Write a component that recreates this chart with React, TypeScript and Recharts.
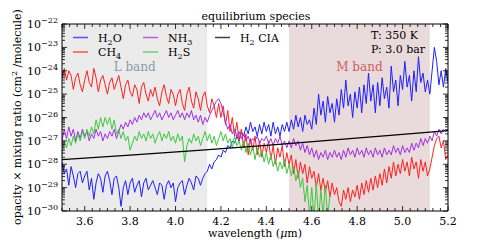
import React from 'react';
import { LineChart, Line, XAxis, YAxis, ReferenceArea } from 'recharts';

// wavelength grid of the opacity samples (micron)
const WL_START = 3.5;
const WL_STEP = 0.01;

// log10(opacity x mixing ratio), one value per grid point
const H2O = [
  -27.9, -28.4, -28.2, -28.9, -28.1, -28.5, -29.0, -28.4, -28.3, -28.8,
  -28.5, -28.3, -29.1, -28.6, -29.5, -28.8, -28.4, -28.6, -29.2, -28.5,
  -28.3, -28.7, -29.3, -28.6, -28.5, -29.0, -29.8, -29.0, -28.7, -29.3,
  -28.8, -28.6, -29.2, -28.9, -28.7, -29.4, -28.8, -28.6, -29.1, -28.9,
  -28.7, -29.0, -29.3, -28.8, -28.9, -29.5, -28.9, -28.7, -29.0, -28.8,
  -29.6, -29.0, -28.8, -28.7, -29.3, -28.9, -28.6, -28.8, -29.1, -28.5,
  -28.6, -28.9, -28.6, -28.4, -28.3, -28.0, -28.2, -27.9, -27.8, -27.6,
  -27.7, -27.4, -27.5, -27.2, -27.3, -27.0, -27.1, -26.8, -27.0, -26.6,
  -26.8, -26.4, -26.7, -26.2, -26.6, -26.4, -26.8, -26.3, -26.7, -26.2,
  -26.6, -26.3, -26.8, -26.2, -26.7, -26.4, -26.8, -26.3, -26.6, -26.2,
  -26.6, -26.1, -26.5, -25.9, -26.4, -26.0, -26.6, -25.9, -26.3, -26.1,
  -26.5, -25.6, -26.3, -25.0, -25.9, -25.3, -26.2, -25.1, -25.8, -25.4,
  -26.2, -25.2, -25.9, -24.8, -25.6, -24.4, -25.5, -25.0, -26.0, -24.9,
  -25.6, -24.7, -25.8, -24.6, -25.4, -24.1, -25.3, -24.6, -25.8, -24.5,
  -25.5, -24.3, -25.2, -24.7, -25.6, -23.8, -24.9, -24.4, -25.5, -24.2,
  -24.8, -23.6, -24.7, -24.2, -25.3, -24.0, -24.9, -23.4, -24.5, -24.1,
  -24.9, -24.4, -25.0, -24.0, -23.0, -23.6, -24.6, -24.0, -24.7, -23.9,
  -24.5,
];

const CH4 = [
  -24.3, -23.9, -24.4, -24.0, -24.2, -24.8, -24.3, -24.1, -24.6, -24.9,
  -24.4, -24.0, -24.5, -24.7, -23.9, -24.3, -24.9, -24.4, -24.2, -24.6,
  -25.0, -24.5, -24.3, -24.8, -24.5, -24.2, -24.7, -25.2, -24.6, -24.4,
  -24.9, -25.1, -24.6, -24.8, -25.4, -24.7, -24.5, -25.0, -25.3, -24.8,
  -25.1, -24.7, -25.2, -25.5, -24.9, -24.6, -25.1, -25.4, -24.8, -25.0,
  -25.5, -25.0, -24.8, -25.4, -25.7, -25.0, -24.7, -25.3, -25.6, -24.9,
  -25.2, -25.7, -25.1, -24.9, -25.5, -25.8, -25.2, -25.5, -26.0, -25.4,
  -26.0, -25.5, -26.3, -25.7, -26.6, -26.0, -26.8, -26.2, -27.0, -26.5,
  -27.3, -26.7, -27.6, -26.9, -27.4, -26.8, -27.6, -27.0, -27.7, -27.1,
  -27.5, -27.0, -27.8, -27.2, -28.0, -27.3, -27.7, -27.2, -28.1, -27.5,
  -28.0, -27.6, -28.4, -27.8, -28.6, -27.9, -28.4, -28.0, -28.8, -28.1,
  -28.6, -28.3, -29.0, -28.4, -29.1, -28.6, -29.2, -28.7, -29.4, -28.8,
  -29.3, -29.0, -29.6, -29.8, -29.1, -29.5, -29.0, -29.6, -29.1, -29.4,
  -28.9, -29.5, -28.8, -29.3, -28.7, -29.2, -28.6, -29.1, -28.5, -29.0,
  -28.4, -28.9, -28.2, -28.8, -28.1, -28.6, -27.9, -28.5, -28.0, -28.4,
  -27.8, -28.3, -27.9, -28.5, -27.7, -28.2, -27.9, -28.6, -27.8, -28.3,
  -27.9, -28.5, -28.2, -27.7, -27.2, -26.9, -26.8, -27.3, -27.0, -27.8,
  -27.6,
];

const NH3 = [
  -27.0, -26.5, -26.9, -26.4, -26.8, -26.5, -27.0, -26.6, -26.9, -26.5,
  -26.8, -26.6, -27.0, -26.7, -26.9, -26.5, -26.8, -26.6, -27.0, -26.7,
  -26.9, -26.6, -26.8, -26.5, -26.9, -26.6, -26.3, -26.5, -26.2, -26.4,
  -26.1, -26.3, -26.0, -26.2, -25.9, -26.1, -25.8, -26.0, -25.8, -26.1,
  -25.9, -25.7, -26.0, -25.8, -26.1, -25.9, -25.7, -26.0, -25.8, -26.1,
  -25.9, -25.7, -26.0, -25.8, -26.1, -25.8, -26.0, -25.7, -26.1, -25.9,
  -26.2, -25.9, -26.3, -26.0, -26.2, -25.9, -25.7, -25.5, -25.3, -25.2,
  -25.4, -25.8, -26.2, -26.5, -26.3, -26.7, -26.5, -26.8, -26.6, -26.9,
  -26.7, -27.0, -26.8, -27.1, -26.9, -27.0, -26.8, -27.1, -26.9, -27.0,
  -26.8, -27.1, -26.9, -27.2, -26.9, -27.1, -26.8, -27.2, -27.0, -27.3,
  -27.0, -27.3, -26.9, -27.2, -27.0, -27.4, -27.1, -27.5, -27.2, -27.6,
  -27.3, -27.7, -27.4, -27.8, -27.5, -27.7, -27.4, -27.8, -27.5, -27.7,
  -27.4, -27.7, -27.5, -27.8, -27.4, -27.7, -27.3, -27.6, -27.4, -27.7,
  -27.3, -27.6, -27.4, -27.7, -27.3, -27.6, -27.4, -27.7, -27.3, -27.6,
  -27.4, -27.7, -27.3, -27.6, -27.4, -27.6, -27.2, -27.5, -27.3, -27.6,
  -27.2, -27.5, -27.3, -27.5, -27.1, -27.4, -27.1, -27.3, -26.9, -27.2,
  -26.9, -27.1, -26.8, -27.0, -26.6, -26.8, -26.5, -26.7, -26.5, -26.6,
  -26.5,
];

// H2S stops at 4.68 micron
const H2S = [
  -27.6, -27.0, -27.3, -26.9, -27.2, -26.8, -27.1, -26.7, -27.0, -26.6,
  -26.9, -26.5, -26.8, -26.4, -26.7, -26.1, -26.5, -26.0, -26.4, -26.0,
  -26.3, -26.0, -26.5, -26.1, -26.7, -26.5, -26.9, -26.6, -27.0, -26.8,
  -27.4, -27.1, -26.8, -27.0, -26.6, -26.9, -26.7, -27.0, -26.6, -26.9,
  -26.7, -27.1, -26.8, -26.6, -27.0, -26.7, -26.9, -26.6, -27.0, -26.8,
  -27.1, -26.7, -27.0, -26.8, -27.9, -27.2, -26.9, -27.1, -26.7, -27.0,
  -26.8, -27.2, -26.9, -26.6, -27.0, -26.7, -27.1, -26.8, -27.2, -26.9,
  -26.6, -27.0, -26.7, -27.1, -26.9, -27.3, -26.8, -27.2, -27.0, -27.4,
  -27.0, -27.5, -27.1, -27.6, -27.2, -27.8, -27.3, -27.7, -27.4, -27.9,
  -27.5, -28.0, -27.6, -28.1, -27.8, -28.3, -27.9, -28.2, -27.8, -28.4,
  -28.0, -28.5, -28.1, -28.7, -28.3, -29.0, -28.6, -29.6, -28.9, -30.2,
  -29.0, -30.3, -28.8, -30.4, -29.1, -30.2, -28.9, -30.3, -29.3,
];

const CIA_WL = [3.5, 3.8, 4.1, 4.4, 4.7, 5.0, 5.2];
const CIA = [-27.8, -27.61, -27.41, -27.19, -26.96, -26.72, -26.56];

const X_MAJOR = [3.6, 3.8, 4.0, 4.2, 4.4, 4.6, 4.8, 5.0, 5.2];
const Y_MAJOR = [-30, -29, -28, -27, -26, -25, -24, -23, -22];

const L_BAND = [3.5, 4.14];
const M_BAND = [4.5, 5.12];

const FONT = '"DejaVu Serif", serif';

const rows = H2O.map((v, i) => ({
  wl: +(WL_START + i * WL_STEP).toFixed(2),
  h2o: v,
  ch4: CH4[i],
  nh3: NH3[i],
  h2s: i < H2S.length ? H2S[i] : undefined,
}));
const ciaRows = CIA_WL.map((wl, i) => ({ wl, cia: CIA[i] }));

const xTicks = Array.from({ length: 52 }, (_, i) => +(3.5 + i / 30).toFixed(4));
const yTicks: number[] = [];
Y_MAJOR.forEach((d) => {
  yTicks.push(d);
  if (d < -22) for (let k = 2; k <= 9; k++) yTicks.push(d + Math.log10(k));
});

const isMajorX = (v: number) => X_MAJOR.some((m) => Math.abs(m - v) < 1e-6);
const isMajorY = (v: number) => Y_MAJOR.some((m) => Math.abs(m - v) < 1e-6);

const BottomTick = (props: any) => {
  const { x, y, payload } = props;
  const major = isMajorX(payload.value);
  return (
    <g>
      <line x1={x} x2={x} y1={y} y2={y - (major ? 5 : 3)} stroke="#000" strokeWidth={0.8} />
      {major && (
        <text x={x} y={y + 14} textAnchor="middle" fontSize={11} fontFamily={FONT} fill="#000">
          {payload.value.toFixed(1)}
        </text>
      )}
    </g>
  );
};

const TopTick = (props: any) => {
  const { x, y, payload } = props;
  const major = isMajorX(payload.value);
  return <line x1={x} x2={x} y1={y} y2={y + (major ? 5 : 3)} stroke="#000" strokeWidth={0.8} />;
};

const LeftTick = (props: any) => {
  const { x, y, payload } = props;
  const major = isMajorY(payload.value);
  return (
    <g>
      <line x1={x} x2={x + (major ? 5 : 3)} y1={y} y2={y} stroke="#000" strokeWidth={0.8} />
      {major && (
        <text x={x - 4} y={y + 4} textAnchor="end" fontSize={11} fontFamily={FONT} fill="#000">
          10
          <tspan dy={-5} fontSize={8}>{'\u2212' + Math.abs(payload.value)}</tspan>
        </text>
      )}
    </g>
  );
};

const RightTick = (props: any) => {
  const { x, y, payload } = props;
  const major = isMajorY(payload.value);
  return <line x1={x} x2={x - (major ? 5 : 3)} y1={y} y2={y} stroke="#000" strokeWidth={0.8} />;
};

const Sub = ({ base, sub, rest }: { base: string; sub: string; rest?: string }) => (
  <>
    {base}
    <tspan dy={3} fontSize={8}>{sub}</tspan>
    <tspan dy={-3}>{rest ?? ''}</tspan>
  </>
);

const LEGEND = [
  { color: '#1f1fff', x: 73, y: 37.5, label: <Sub base="H" sub="2" rest="O" /> },
  { color: '#ff2020', x: 73, y: 52, label: <Sub base="CH" sub="4" /> },
  { color: '#a030e0', x: 143, y: 37.5, label: <Sub base="NH" sub="3" /> },
  { color: '#40c840', x: 143, y: 52, label: <Sub base="H" sub="2" rest="S" /> },
  { color: '#000000', x: 215, y: 37.5, label: <Sub base="H" sub="2" rest=" CIA" /> },
];

const axisCommon = {
  type: 'number' as const,
  allowDataOverflow: true,
  interval: 0 as const,
  tickSize: 0,
  tickMargin: 0,
  tickLine: false,
  axisLine: { stroke: '#000', strokeWidth: 1 },
};

export default function App() {
  return (
    <div style={{ position: 'relative', width: 498, height: 249, margin: -8, background: '#fff' }}>
      <LineChart width={498} height={249} data={rows} margin={{ top: 23, right: 49, bottom: 37, left: 61 }}>
        <XAxis xAxisId="b" dataKey="wl" domain={[3.5, 5.2]} ticks={xTicks} height={1} tick={BottomTick} {...axisCommon} />
        <XAxis xAxisId="t" orientation="top" dataKey="wl" domain={[3.5, 5.2]} ticks={xTicks} height={1} tick={TopTick} {...axisCommon} />
        <YAxis yAxisId="l" domain={[-30, -22]} ticks={yTicks} width={1} tick={LeftTick} {...axisCommon} />
        <YAxis yAxisId="r" orientation="right" domain={[-30, -22]} ticks={yTicks} width={1} tick={RightTick} {...axisCommon} />
        <ReferenceArea
          xAxisId="b"
          yAxisId="l"
          x1={L_BAND[0]}
          x2={L_BAND[1]}
          y1={-30}
          y2={-22}
          fill="#ebebeb"
          fillOpacity={1}
          stroke="none"
          label={{ value: 'L band', position: 'insideTop', offset: 38, fill: '#8c99a8', fontSize: 12, fontFamily: FONT }}
        />
        <ReferenceArea
          xAxisId="b"
          yAxisId="l"
          x1={M_BAND[0]}
          x2={M_BAND[1]}
          y1={-30}
          y2={-22}
          fill="#e9dbdb"
          fillOpacity={1}
          stroke="none"
          label={{ value: 'M band', position: 'insideTop', offset: 38, fill: '#cd5c5c', fontSize: 12, fontFamily: FONT }}
        />
        <Line xAxisId="b" yAxisId="l" dataKey="h2o" stroke="#1f1fff" strokeWidth={1} dot={false} isAnimationActive={false} />
        <Line xAxisId="b" yAxisId="l" dataKey="ch4" stroke="#ff2020" strokeWidth={1} dot={false} isAnimationActive={false} />
        <Line xAxisId="b" yAxisId="l" dataKey="nh3" stroke="#a030e0" strokeWidth={1} dot={false} isAnimationActive={false} />
        <Line xAxisId="b" yAxisId="l" dataKey="h2s" stroke="#40c840" strokeWidth={1} dot={false} isAnimationActive={false} />
        <Line xAxisId="b" yAxisId="l" data={ciaRows} dataKey="cia" stroke="#000" strokeWidth={1.2} dot={false} isAnimationActive={false} />
      </LineChart>
      <svg width={498} height={249} style={{ position: 'absolute', left: 0, top: 0, pointerEvents: 'none' }} fontFamily={FONT}>
        <text x={256} y={20} textAnchor="middle" fontSize={11}>equilibrium species</text>
        <text x={255} y={237} textAnchor="middle" fontSize={11}>
          wavelength (<tspan fontStyle="italic">μ</tspan>m)
        </text>
        <text x={21} y={117} textAnchor="middle" fontSize={11} transform="rotate(-90 21 117)">
          opacity × mixing ratio (cm<tspan dy={-4} fontSize={8}>2</tspan>
          <tspan dy={4}> /molecule)</tspan>
        </text>
        {LEGEND.map((e, i) => (
          <g key={i}>
            <line x1={e.x} x2={e.x + 15} y1={e.y} y2={e.y} stroke={e.color} strokeOpacity={0.75} strokeWidth={1.5} />
            <text x={e.x + 25} y={e.y + 4} fontSize={11}>{e.label}</text>
          </g>
        ))}
        <text x={371} y={39} fontSize={11}>T: 350 K</text>
        <text x={371} y={53} fontSize={11}>P: 3.0 bar</text>
      </svg>
    </div>
  );
}
